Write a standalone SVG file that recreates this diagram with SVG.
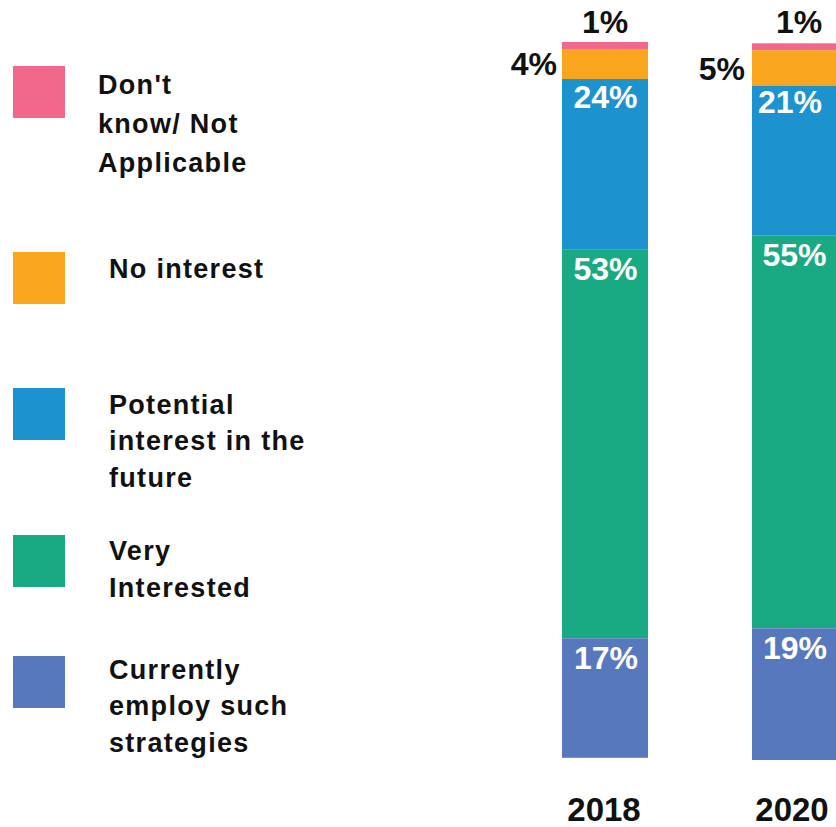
<svg xmlns="http://www.w3.org/2000/svg" width="836" height="827" viewBox="0 0 836 827">
<style>
.lg{font-family:"Liberation Sans",Arial,sans-serif;font-weight:bold;font-size:27px;letter-spacing:1.3px;fill:#111}
.pc{font-family:"Liberation Sans",Arial,sans-serif;font-weight:bold;font-size:32px;text-anchor:middle}
.w{fill:#fff}
.k{fill:#111}
.yr{font-family:"Liberation Sans",Arial,sans-serif;font-weight:bold;font-size:33px;text-anchor:middle;fill:#111}
.pink{fill:#F2688D}.orange{fill:#F9A61E}.blue{fill:#1C92CF}.green{fill:#1AAA83}.purple{fill:#5878BE}
</style>
<rect width="836" height="827" fill="#fff"/>
<g id="legend">
<g id="legend-dontknow"><rect class="pink" x="13" y="66" width="52" height="52"/>
<text class="lg" x="98" y="94">Don't</text><text class="lg" x="98" y="133">know/ Not</text><text class="lg" x="98" y="172">Applicable</text></g>
<g id="legend-nointerest"><rect class="orange" x="13" y="252" width="52" height="52"/>
<text class="lg" x="109" y="278">No interest</text></g>
<g id="legend-potential"><rect class="blue" x="13" y="388" width="52" height="52"/>
<text class="lg" x="109" y="414">Potential</text><text class="lg" x="109" y="450">interest in the</text><text class="lg" x="109" y="487">future</text></g>
<g id="legend-very"><rect class="green" x="13" y="535" width="52" height="52"/>
<text class="lg" x="109" y="560">Very</text><text class="lg" x="109" y="597">Interested</text></g>
<g id="legend-current"><rect class="purple" x="13" y="656" width="52" height="52"/>
<text class="lg" x="109" y="679">Currently</text><text class="lg" x="109" y="715">employ such</text><text class="lg" x="109" y="752">strategies</text></g>
</g>
<g id="bar-2018">
<rect class="pink" x="562" y="42" width="86" height="7"/>
<rect class="orange" x="562" y="49" width="86" height="30"/>
<rect class="blue" x="562" y="79" width="86" height="170.5"/>
<rect class="green" x="562" y="249.3" width="86" height="389"/>
<rect class="purple" x="562" y="638.3" width="86" height="119.5"/>
<text class="pc k" x="605" y="33">1%</text>
<text class="pc k" x="557" y="75" style="text-anchor:end">4%</text>
<text class="pc w" x="605.5" y="108">24%</text>
<text class="pc w" x="605.5" y="280">53%</text>
<text class="pc w" x="606" y="669">17%</text>
<text class="yr" x="604" y="821">2018</text>
</g>
<g id="bar-2020">
<rect class="pink" x="752" y="43.3" width="86" height="7"/>
<rect class="orange" x="752" y="50.3" width="86" height="35.7"/>
<rect class="blue" x="752" y="86" width="86" height="149.7"/>
<rect class="green" x="752" y="235.7" width="86" height="392.6"/>
<rect class="purple" x="752" y="628.3" width="86" height="131.7"/>
<text class="pc k" x="799" y="33">1%</text>
<text class="pc k" x="745" y="80" style="text-anchor:end">5%</text>
<text class="pc w" x="790" y="113">21%</text>
<text class="pc w" x="794.5" y="266">55%</text>
<text class="pc w" x="795" y="659">19%</text>
<text class="yr" x="792" y="821">2020</text>
</g>
<g id="connectors"/>
</svg>
